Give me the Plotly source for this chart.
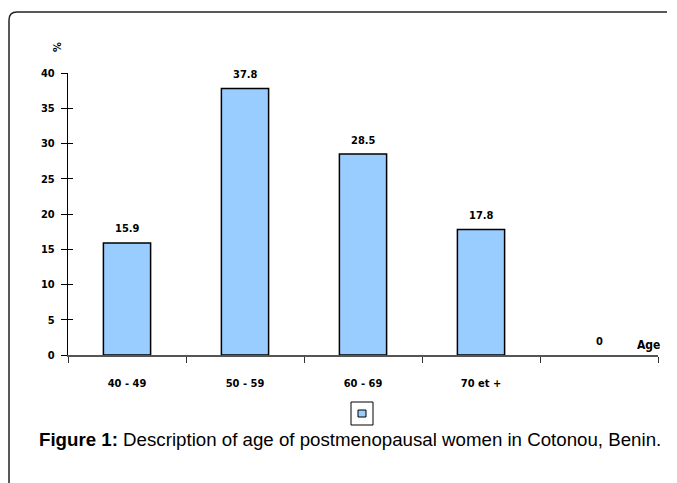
import plotly.graph_objects as go

categories = ["40 - 49", "50 - 59", "60 - 69", "70 et +", " "]
values = [15.9, 37.8, 28.5, 17.8, 0]
value_labels = ["15.9", "37.8", "28.5", "17.8", "0"]
y_ticks = [0, 5, 10, 15, 20, 25, 30, 35, 40]

OFF = 8  # page body margin offset
W, H = 677 - OFF, 483 - OFF
L, T = 68 - OFF, 73 - OFF
R = W - (658 - OFF)
B = H - (355 - OFF)
PW, PH = W - L - R, H - T - B

def px(x):
    return (x - OFF - L) / PW

def py(y):
    return (H - B - (y - OFF)) / PH

FAM = "DejaVu Sans Condensed, DejaVu Sans"
tick_font = dict(family=FAM, size=11, color="black", weight="bold")

fig = go.Figure()
fig.add_trace(go.Bar(
    x=categories, y=values, width=0.4,
    marker=dict(color="#99CCFF",
                line=dict(color="black", width=[1.5 if v > 0 else 0 for v in values])),
    showlegend=False, hoverinfo="x+y",
))

for c, v, t in zip(categories, values, value_labels):
    fig.add_annotation(x=c, y=v, text=t, showarrow=False, xanchor="center",
                       yanchor="middle", yshift=14, font=tick_font)

fig.update_layout(
    width=W, height=H,
    margin=dict(l=L, r=R, t=T, b=B),
    paper_bgcolor="white", plot_bgcolor="white",
    xaxis=dict(
        type="category", tickson="boundaries", ticks="outside", ticklen=6,
        tickcolor="#333", showline=True, linecolor="#555", linewidth=1.5,
        showgrid=False, tickfont=tick_font, ticklabelstandoff=17,
        range=[-0.5, 4.5],
    ),
    yaxis=dict(
        range=[0, 40], tickvals=y_ticks, ticks="outside", ticklen=6,
        tickcolor="black", showline=True, linecolor="black", linewidth=1.2,
        showgrid=False, zeroline=False, tickfont=tick_font, ticklabelstandoff=4,
    ),
    yaxis2=dict(
        range=[0, 40], tickvals=y_ticks, ticks="inside", ticklen=5,
        tickcolor="black", overlaying="y", side="left", showticklabels=False,
        showline=False, showgrid=False, zeroline=False,
    ),
)
fig.add_trace(go.Scatter(x=[categories[0]], y=[0], yaxis="y2", mode="markers",
                         marker=dict(opacity=0), showlegend=False, hoverinfo="skip"))

fig.add_annotation(text="%", xref="paper", yref="paper", x=px(58), y=py(47),
                   xanchor="center", yanchor="middle",
                   textangle=-90, showarrow=False, font=tick_font)
fig.add_annotation(text="Age", xref="paper", yref="paper", x=px(648), y=py(345),
                   xanchor="center", yanchor="middle",
                   showarrow=False, font=dict(family=FAM, size=12, color="black", weight="bold"))

fig.add_shape(type="rect", xref="paper", yref="paper", x0=px(351), x1=px(373),
              y0=py(425), y1=py(402), line=dict(color="black", width=1), fillcolor="white")
fig.add_shape(type="rect", xref="paper", yref="paper", x0=px(358), x1=px(366),
              y0=py(417), y1=py(410), line=dict(color="black", width=1), fillcolor="#99CCFF")

fig.add_annotation(text="<b>Figure 1:</b> Description of age of postmenopausal women in Cotonou, Benin.",
                   xref="paper", yref="paper", x=px(350), y=py(439),
                   xanchor="center", yanchor="middle", showarrow=False,
                   font=dict(family="Liberation Sans, Arial", size=18.7, color="black"))

# outer frame: left and top edges with rounded top-left corner
x0, yt, xr, yb = px(9), py(12), px(667), py(483)
rx, ry = 8 / PW, 8 / PH
frame_line = dict(color="#222", width=1.5)
fig.add_shape(type="path", xref="paper", yref="paper",
              path=f"M {x0},{yb} L {x0},{yt - ry} Q {x0},{yt} {x0 + rx},{yt} L {xr},{yt}",
              line=frame_line)

fig.write_html("out.html")
